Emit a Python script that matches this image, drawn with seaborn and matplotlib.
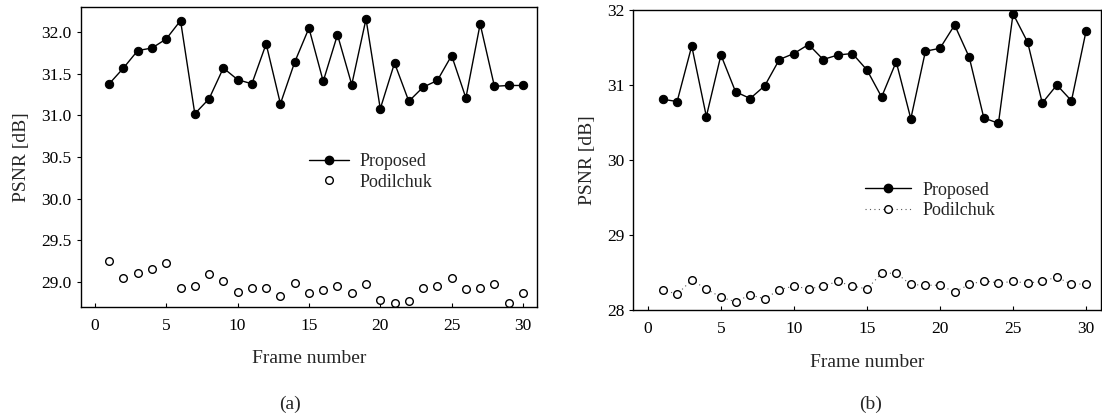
import numpy as np
import pandas as pd
import seaborn as sns
import matplotlib.pyplot as plt
from matplotlib.lines import Line2D

frames = list(range(1, 31))

# (a)
proposed_a = [31.38, 31.57, 31.78, 31.81, 31.92, 32.14, 31.02, 31.20, 31.57, 31.43,
              31.38, 31.86, 31.14, 31.64, 32.05, 31.41, 31.97, 31.37, 32.16, 31.08,
              31.63, 31.17, 31.34, 31.42, 31.72, 31.21, 32.10, 31.35, 31.36, 31.36]
podilchuk_a = [29.25, 29.04, 29.11, 29.15, 29.23, 28.92, 28.95, 29.09, 29.01, 28.88,
               28.93, 28.92, 28.83, 28.99, 28.86, 28.90, 28.95, 28.86, 28.97, 28.78,
               28.75, 28.77, 28.93, 28.95, 29.05, 28.91, 28.93, 28.97, 28.74, 28.86]

# (b)
proposed_b = [30.81, 30.78, 31.52, 30.58, 31.40, 30.91, 30.82, 30.99, 31.34, 31.42,
              31.54, 31.34, 31.40, 31.42, 31.20, 30.84, 31.31, 30.55, 31.45, 31.49,
              31.80, 31.37, 30.56, 30.49, 31.95, 31.57, 30.76, 31.00, 30.79, 31.72]
podilchuk_b = [28.27, 28.21, 28.40, 28.28, 28.17, 28.11, 28.20, 28.15, 28.27, 28.32,
               28.28, 28.32, 28.38, 28.32, 28.28, 28.49, 28.49, 28.34, 28.33, 28.33,
               28.24, 28.34, 28.39, 28.36, 28.38, 28.36, 28.38, 28.44, 28.34, 28.35]

df_a = pd.DataFrame({"frame": frames, "Proposed": proposed_a, "Podilchuk": podilchuk_a})
df_b = pd.DataFrame({"frame": frames, "Proposed": proposed_b, "Podilchuk": podilchuk_b})

sns.set_style("ticks")
plt.rcParams['font.family'] = ['Liberation Serif', 'DejaVu Serif']
plt.rcParams['xtick.direction'] = 'in'
plt.rcParams['ytick.direction'] = 'out'

fig = plt.figure(figsize=(11.02, 4.17), dpi=100)
ax1 = fig.add_axes([0.0732, 0.2645, 0.4143, 0.718])
ax2 = fig.add_axes([0.5747, 0.2566, 0.4241, 0.7194])

filled = dict(marker='o', markersize=6, markerfacecolor='black', markeredgecolor='black')
hollow = dict(marker='o', markersize=5.5, markerfacecolor='white', markeredgecolor='black',
              markeredgewidth=1.0)

# panel (a)
sns.lineplot(data=df_a, x="frame", y="Proposed", ax=ax1, color='black', linewidth=1.0, **filled)
sns.lineplot(data=df_a, x="frame", y="Podilchuk", ax=ax1, color='black', linestyle='none', **hollow)
ax1.set_xlim(-1, 31)
ax1.set_ylim(28.7, 32.3)
ax1.set_yticks([29.0, 29.5, 30.0, 30.5, 31.0, 31.5, 32.0])
ax1.set_yticklabels(["29.0", "29.5", "30.0", "30.5", "31.0", "31.5", "32.0"])
h1 = [Line2D([], [], color='black', linewidth=1.0, **filled),
      Line2D([], [], color='black', linestyle='none', **hollow)]
ax1.legend(h1, ["Proposed", "Podilchuk"], frameon=False, loc='center left',
           bbox_to_anchor=(0.465, 0.45), fontsize=13, handlelength=2.2,
           handletextpad=0.6, labelspacing=0.2)

# panel (b)
sns.lineplot(data=df_b, x="frame", y="Proposed", ax=ax2, color='black', linewidth=1.0, **filled)
sns.lineplot(data=df_b, x="frame", y="Podilchuk", ax=ax2, color='0.35', linestyle=(0, (1, 3)),
             linewidth=0.8, **hollow)
ax2.set_xlim(-1, 31)
ax2.set_ylim(28, 32)
ax2.set_yticks([28, 29, 30, 31, 32])
h2 = [Line2D([], [], color='black', linewidth=1.0, **filled),
      Line2D([], [], color='0.35', linestyle=(0, (1, 3)), linewidth=0.8, **hollow)]
ax2.legend(h2, ["Proposed", "Podilchuk"], frameon=False, loc='center left',
           bbox_to_anchor=(0.46, 0.365), fontsize=13, handlelength=2.6,
           handletextpad=0.6, labelspacing=0.2)

for ax in (ax1, ax2):
    ax.set_xticks([0, 5, 10, 15, 20, 25, 30])
    ax.set_xlabel("Frame number", fontsize=14, labelpad=12)
    ax.set_ylabel("PSNR [dB]", fontsize=14, labelpad=8)
    ax.tick_params(axis='both', labelsize=12.5, length=3, width=0.8, colors='black')
    ax.tick_params(axis='x', pad=8)
    for s in ax.spines.values():
        s.set_visible(True)
        s.set_linewidth(1.0)
        s.set_color('black')

fig.text(0.263, 0.02, "(a)", fontsize=14, ha='center')
fig.text(0.79, 0.02, "(b)", fontsize=14, ha='center')

fig.savefig("out.png", dpi=100)
